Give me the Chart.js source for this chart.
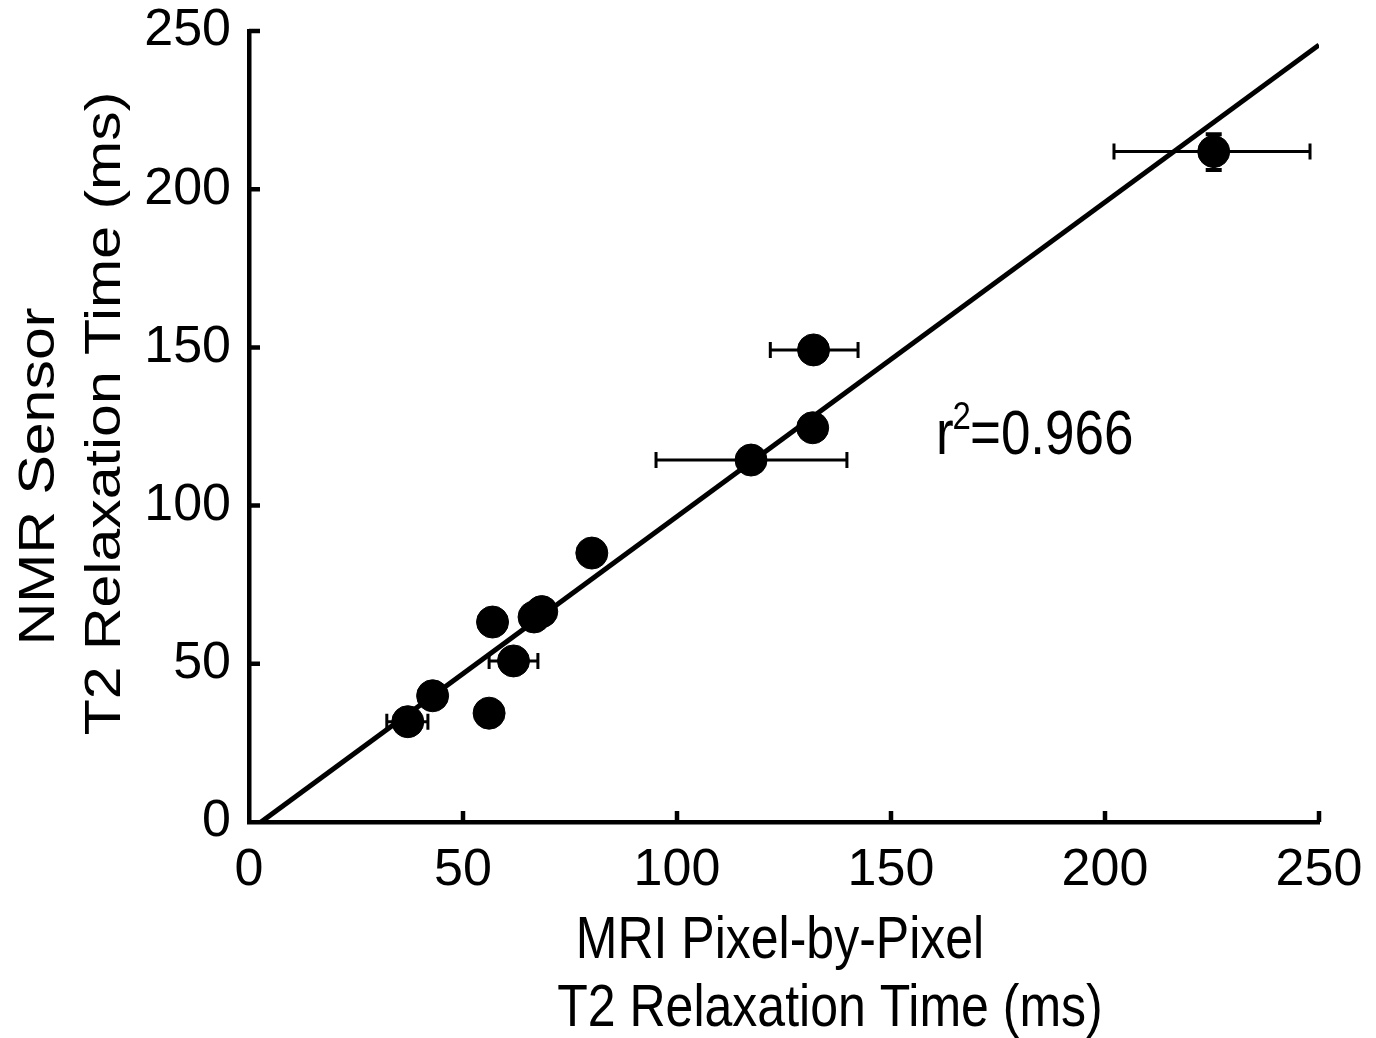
<!DOCTYPE html>
<html>
<head>
<meta charset="utf-8">
<script src="https://cdn.jsdelivr.net/npm/chart.js@4/dist/chart.umd.min.js"></script>
<style>
  html, body { margin: 0; padding: 0; background: #fff; }
  #wrap { width: 1376px; height: 1038px; }
</style>
</head>
<body>
<div id="wrap"><canvas id="myChart" width="1376" height="1038"></canvas></div>
<script>
// valores
const mriT2 = [225.4, 131.9, 131.7, 117.3, 80.1, 68.4, 66.6, 56.9, 61.8, 42.9, 37.1, 56.1]
const nmrT2 = [211.9, 149.2, 124.6, 114.4, 85.0, 66.5, 64.8, 63.2, 50.9, 39.9, 31.7, 34.4]
// barras de error en x (min, max), null = sin barra
const mriLow = [202.1, 121.8, null, 95.1, null, null, null, null, 56.1, null, 32.2, null]
const mriHigh = [247.9, 142.3, null, 139.7, null, null, null, null, 67.5, null, 41.8, null]
// barras de error en y
const nmrLow = [206.1, null, null, null, null, null, null, null, null, null, null, null]
const nmrHigh = [217.4, null, null, null, null, null, null, null, null, null, null, null]

const ticks = [0, 50, 100, 150, 200, 250]
const xTitle = ['MRI Pixel-by-Pixel', 'T2 Relaxation Time (ms)']
const yTitle = ['NMR Sensor', 'T2 Relaxation Time (ms)']
const fitSlope = 0.9935
const fitIntercept = -2.8
const fitRange = [2.8, 250]
const rSquared = '0.966'

const fontFam = '"Liberation Sans", Arial, sans-serif'
const estirar = 1.18 // el original esta un poco estirado en vertical

const puntos = mriT2.map((x, i) => ({ x, y: nmrT2[i] }))
const recta = fitRange.map(x => ({ x, y: fitSlope * x + fitIntercept }))

const errorBars = {
  id: 'errorBars',
  afterDatasetsDraw (chart) {
    const { ctx, scales: { x, y } } = chart
    ctx.save()
    ctx.strokeStyle = '#000'
    ctx.lineWidth = 3
    const cap = 8
    mriT2.forEach((v, i) => {
      const py = y.getPixelForValue(nmrT2[i])
      const px = x.getPixelForValue(v)
      if (mriLow[i] !== null) {
        const a = x.getPixelForValue(mriLow[i])
        const b = x.getPixelForValue(mriHigh[i])
        ctx.beginPath()
        ctx.moveTo(a, py); ctx.lineTo(b, py)
        ctx.moveTo(a, py - cap); ctx.lineTo(a, py + cap)
        ctx.moveTo(b, py - cap); ctx.lineTo(b, py + cap)
        ctx.stroke()
      }
      if (nmrLow[i] !== null) {
        const a = y.getPixelForValue(nmrLow[i])
        const b = y.getPixelForValue(nmrHigh[i])
        ctx.lineWidth = 4
        ctx.beginPath()
        ctx.moveTo(px, a); ctx.lineTo(px, b)
        ctx.moveTo(px - cap, a); ctx.lineTo(px + cap, a)
        ctx.moveTo(px - cap, b); ctx.lineTo(px + cap, b)
        ctx.stroke()
        ctx.lineWidth = 3
      }
    })
    ctx.restore()
  }
}

const texto = (ctx, str, cx, cy, size, vertical) => {
  ctx.save()
  ctx.translate(cx, cy)
  if (vertical) {
    ctx.rotate(-Math.PI / 2)
    ctx.scale(estirar, 1)
  } else {
    ctx.scale(1, estirar)
  }
  ctx.font = size + 'px ' + fontFam
  ctx.textAlign = 'center'
  ctx.textBaseline = 'middle'
  ctx.fillText(str, 0, 0)
  ctx.restore()
}

// ticks hacia dentro, titulos y texto r^2
const extras = {
  id: 'extras',
  afterDraw (chart) {
    const { ctx, scales: { x, y } } = chart
    ctx.save()
    ctx.strokeStyle = '#000'
    ctx.lineWidth = 4.5
    ctx.beginPath()
    ticks.forEach(t => {
      const px = x.getPixelForValue(t)
      if (t > 0) { ctx.moveTo(px, y.bottom); ctx.lineTo(px, y.bottom - 11) }
      const py = y.getPixelForValue(t)
      if (t > 0) { ctx.moveTo(x.left, py); ctx.lineTo(x.left + 11, py) }
    })
    ctx.stroke()
    ctx.fillStyle = '#000'

    // titulos (la segunda linea esta desplazada en el original)
    const midX = (x.left + x.right) / 2
    const midY = (y.top + y.bottom) / 2
    texto(ctx, xTitle[0], midX - 4, 942, 50, false)
    texto(ctx, xTitle[1], midX + 46, 1010, 50, false)
    texto(ctx, yTitle[0], 40, midY + 50, 50, true)
    texto(ctx, yTitle[1], 106, midY - 13, 50, true)

    const tx = x.getPixelForValue(160.5)
    const ty = y.getPixelForValue(116.3)
    ctx.translate(tx, ty)
    ctx.scale(1, estirar)
    ctx.textBaseline = 'alphabetic'
    ctx.textAlign = 'left'
    ctx.font = '53px ' + fontFam
    ctx.fillText('r', 0, 0)
    const rw = ctx.measureText('r').width
    ctx.font = '33px ' + fontFam
    ctx.fillText('2', rw - 1, -21)
    const sw = ctx.measureText('2').width
    ctx.font = '53px ' + fontFam
    ctx.fillText('=' + rSquared, rw + sw - 2, 0)
    ctx.restore()
  }
}

const ctx = document.getElementById('myChart').getContext('2d')
const myChart = new Chart(ctx, {
  type: 'scatter',
  data: {
    datasets: [
      {
        type: 'line',
        data: recta,
        borderColor: '#000',
        borderWidth: 5,
        pointRadius: 0,
        fill: false,
        order: 2,
      },
      {
        data: puntos,
        backgroundColor: '#000',
        borderColor: '#000',
        pointRadius: 16,
        pointHoverRadius: 16,
        order: 1,
      },
    ],
  },
  options: {
    responsive: false,
    animation: false,
    events: [],
    layout: { padding: { top: 31, right: 57, bottom: 0, left: 0 } },
    plugins: { legend: { display: false }, tooltip: { enabled: false } },
    scales: {
      x: {
        type: 'linear',
        min: 0,
        max: 250,
        afterFit: (s) => { s.height = 216; s.paddingRight = 0; s.paddingLeft = 0 },
        afterBuildTicks: (s) => { s.ticks = ticks.map(v => ({ value: v })) },
        grid: { drawOnChartArea: false, drawTicks: false },
        border: { color: '#000', width: 4.5 },
        ticks: { color: '#000', padding: 17, font: { family: fontFam, size: 52 } },
        title: { display: false },
      },
      y: {
        type: 'linear',
        min: 0,
        max: 250,
        afterFit: (s) => { s.width = 249; s.paddingTop = 0; s.paddingBottom = 0 },
        afterBuildTicks: (s) => { s.ticks = ticks.map(v => ({ value: v })) },
        grid: { drawOnChartArea: false, drawTicks: false },
        border: { color: '#000', width: 4.5 },
        ticks: { color: '#000', padding: 18, font: { family: fontFam, size: 52 } },
        title: { display: false },
      },
    },
  },
  plugins: [errorBars, extras],
})
</script>
</body>
</html>
